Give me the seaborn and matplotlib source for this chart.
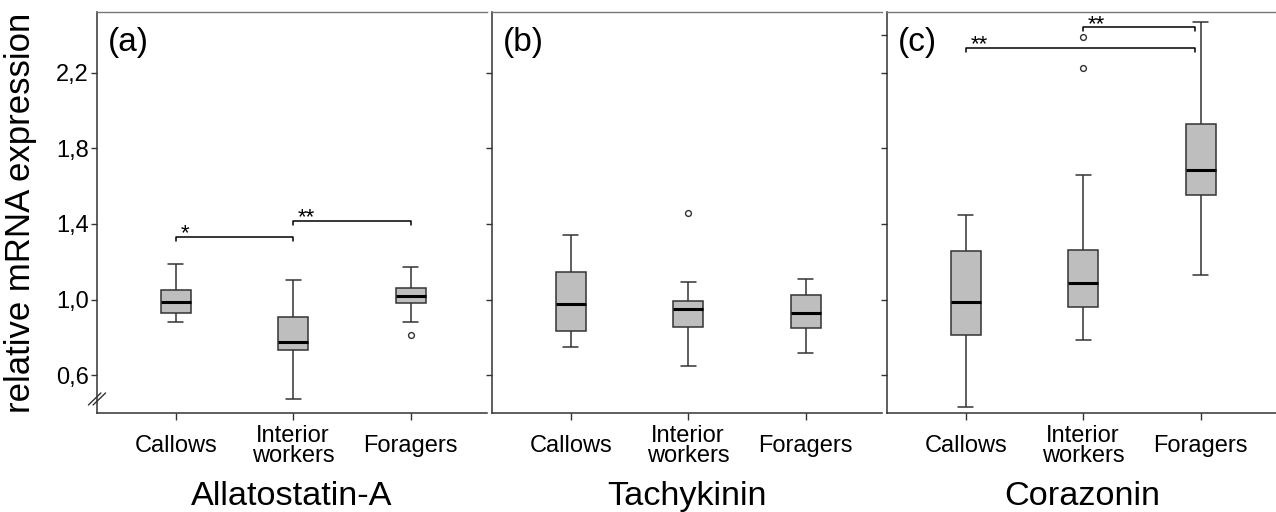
import numpy as np
import pandas as pd
import matplotlib
matplotlib.use('Agg')
import matplotlib.pyplot as plt
import seaborn as sns

groups = ['Callows', 'Interior\nworkers', 'Foragers']
titles = ['Allatostatin-A', 'Tachykinin', 'Corazonin']
letters = ['(a)', '(b)', '(c)']

# five-number summaries: min, q1, median, q3, max
ast = [[0.882, 0.928, 0.986, 1.048, 1.188],
       [0.474, 0.732, 0.776, 0.908, 1.104],
       [0.882, 0.982, 1.017, 1.063, 1.171]]
tk = [[0.747, 0.834, 0.975, 1.143, 1.339],
      [0.649, 0.854, 0.949, 0.993, 1.091],
      [0.717, 0.847, 0.928, 1.026, 1.106]]
crz = [[0.431, 0.812, 0.987, 1.255, 1.449],
       [0.787, 0.958, 1.086, 1.264, 1.660],
       [1.127, 1.554, 1.683, 1.926, 2.468]]

ast_out = [[], [], [0.811]]
tk_out = [[], [1.459], []]
crz_out = [[], [2.387, 2.225], []]

# significance brackets: (from group, to group, height, label)
ast_sig = [(0, 1, 1.331, '*'), (1, 2, 1.417, '**')]
tk_sig = []
crz_sig = [(0, 2, 2.331, '**'), (1, 2, 2.439, '**')]

yticks = [0.6, 1.0, 1.4, 1.8, 2.2]
ytick_labels = ['0,6', '1,0', '1,4', '1,8', '2,2']

sns.set_style('white')
plt.rcParams['font.family'] = ['Liberation Sans', 'DejaVu Sans']
plt.rcParams.update({'text.color': 'black', 'axes.labelcolor': 'black',
                     'xtick.labelcolor': 'black', 'ytick.labelcolor': 'black'})

W, H = 1276, 512
fig = plt.figure(figsize=(W / 100, H / 100), dpi=100)
lefts = [97, 492, 887]
axes = [fig.add_axes([l / W, 1 - 413 / H, 390 / W, 401 / H]) for l in lefts]

panels = [(ast, ast_out, ast_sig), (tk, tk_out, tk_sig), (crz, crz_out, crz_sig)]
dark = '#333333'

for i, (ax, (summ, outs, sigs)) in enumerate(zip(axes, panels)):
    df = pd.DataFrame([(g, v) for g, vals in zip(groups, summ) for v in vals],
                      columns=['group', 'value'])
    sns.boxplot(data=df, x='group', y='value', order=groups, width=0.255,
                whis=(0, 100), color='#bebebe', saturation=1, linecolor=dark,
                linewidth=1.1, medianprops=dict(color='black', linewidth=2.2),
                ax=ax)
    odf = pd.DataFrame([(g, v) for g, vals in zip(groups, outs) for v in vals],
                       columns=['group', 'value'])
    if len(odf):
        n0 = len(ax.collections)
        sns.stripplot(data=odf, x='group', y='value', order=groups, jitter=False,
                      color='white', edgecolor=dark, linewidth=1.0, size=4.2, ax=ax)
        for c in ax.collections[n0:]:
            c.set_facecolor('white')
            c.set_edgecolor(dark)

    inset = 0.05 if i == 2 else 0.0
    for a, b, y, lab in sigs:
        xe = b - inset
        ax.plot([a, a, xe, xe], [y - 0.022, y, y, y - 0.022], color='black', lw=1.1)
        ax.annotate(lab, (a, y), xytext=(3.5, -2.0), textcoords='offset points',
                    ha='left', va='baseline', fontsize=16, color='black')

    ax.set_xlim(-0.67, 2.65)
    ax.set_ylim(0.4, 2.52)
    ax.set_yticks(yticks + ([2.4] if i == 2 else []))
    if i == 0:
        ax.set_yticklabels(ytick_labels, fontsize=17)
        # axis break mark
        for d in (-0.006, 0.006):
            ax.plot([-0.016 + d, 0.016 + d], [0.02, 0.05], transform=ax.transAxes,
                    color=dark, lw=1.0, clip_on=False)
    else:
        ax.set_yticklabels([])
        ax.set_ylabel('')
    ax.set_xticks(range(len(groups)))
    ax.set_xticklabels(groups, fontsize=17, va='center', linespacing=0.9)
    ax.tick_params(axis='x', length=5, width=1, color=dark, pad=19, bottom=True)
    ax.tick_params(axis='y', length=4, width=1, color=dark, pad=2, left=True)
    ax.set_xlabel(titles[i], fontsize=24.7, va='center')
    ax.xaxis.set_label_coords(0.5, -0.209)
    ax.text(0.028, 0.923, letters[i], transform=ax.transAxes, fontsize=24,
            ha='left', va='center')

    for s in ['left', 'bottom']:
        ax.spines[s].set_color(dark)
        ax.spines[s].set_linewidth(1.1)
    ax.spines['top'].set_color('#777777')
    ax.spines['top'].set_linewidth(1.0)
    ax.spines['right'].set_visible(False)

axes[0].set_ylabel('relative mRNA expression', fontsize=25, ha='center', va='center')
axes[0].yaxis.set_label_coords(-0.195, 0.5)

fig.savefig('out.png', dpi=100)
